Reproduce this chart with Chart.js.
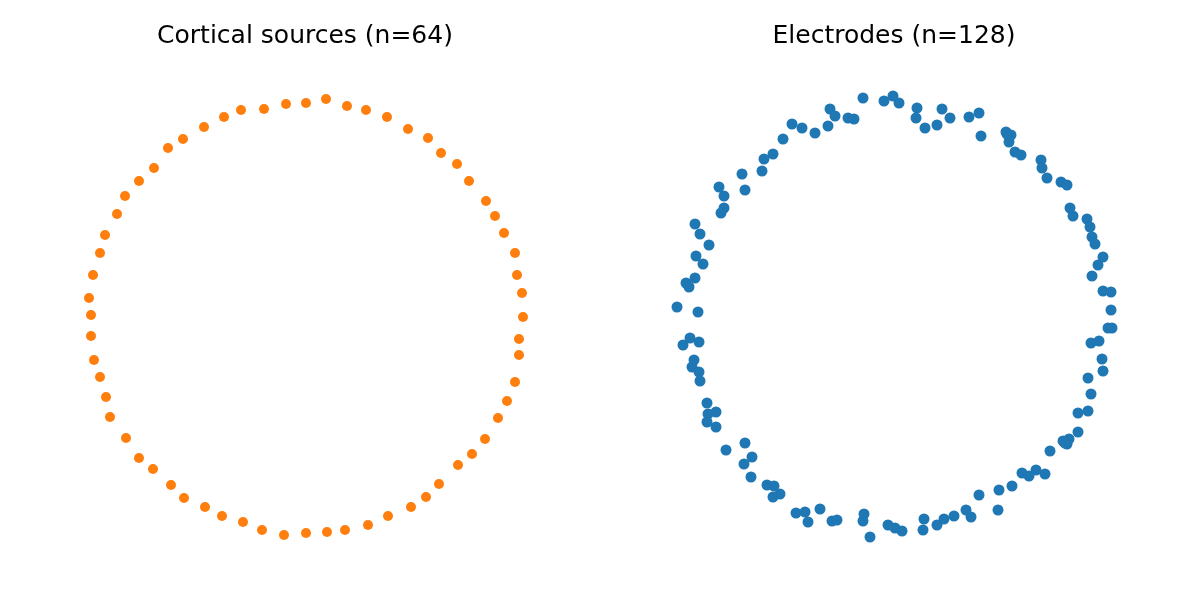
<!DOCTYPE html>
<html>
<head>
<meta charset="utf-8">
<script src="https://cdn.jsdelivr.net/npm/chart.js@4"></script>
<style>
  html, body { margin: 0; padding: 0; background: #fff; }
  #wrap { position: relative; width: 1200px; height: 600px; }
  .panel { position: absolute; top: 0; width: 600px; height: 600px; }
</style>
</head>
<body>
<div id="wrap">
  <div class="panel" style="left:0"><canvas id="c_sources" width="600" height="600"></canvas></div>
  <div class="panel" style="left:600px"><canvas id="c_electrodes" width="600" height="600"></canvas></div>
</div>
<script>
// cortical sources (n=64)
const sourceX = [0.21, 0.01, -0.19, -0.41, -0.64, -0.81, -1.01, -1.22, -1.37, -1.51, -1.66, -1.80, -1.88, -2.00, -2.05, -2.12,
  -2.16, -2.14, -2.14, -2.11, -2.05, -1.99, -1.95, -1.79, -1.66, -1.52, -1.34, -1.21, -1.00, -0.83, -0.62, -0.43,
  -0.21, 0.01, 0.22, 0.40, 0.63, 0.83, 1.06, 1.21, 1.34, 1.53, 1.67, 1.80, 1.93, 2.02, 2.10, 2.14,
  2.14, 2.18, 2.17, 2.12, 2.10, 1.99, 1.90, 1.81, 1.64, 1.52, 1.36, 1.23, 1.03, 0.82, 0.61, 0.42];
const sourceY = [2.18, 2.14, 2.13, 2.08, 2.07, 2.00, 1.90, 1.78, 1.69, 1.49, 1.36, 1.21, 1.03, 0.82, 0.64, 0.42,
  0.19, 0.02, -0.19, -0.43, -0.60, -0.80, -1.00, -1.21, -1.41, -1.52, -1.68, -1.81, -1.90, -1.99, -2.05, -2.13,
  -2.18, -2.16, -2.15, -2.13, -2.08, -1.99, -1.90, -1.80, -1.67, -1.48, -1.37, -1.22, -1.01, -0.84, -0.65, -0.38,
  -0.22, 0.00, 0.24, 0.42, 0.64, 0.84, 1.01, 1.16, 1.36, 1.53, 1.64, 1.79, 1.88, 2.00, 2.07, 2.11];

// electrodes (n=128)
const electrodeX = [-0.31, -0.10, -0.64, -0.59, -0.46, -0.40, -1.02, -0.92, -0.79, -0.66, -1.11, -1.21, -1.30, -1.32, -1.52, -1.49,
  -1.75, -1.70, -1.70, -1.73, -1.99, -1.94, -1.85, -1.98, -1.91, -1.99, -2.08, -2.05, -2.17, -1.96,
  -0.01, 0.05, 0.23, 0.22, 0.31, 0.43, 0.48, 0.56, 0.75, 0.85, 0.87, 1.12, 1.17, 1.15, 1.21, 1.27,
  1.47, 1.48, 1.53, 1.67, 1.73, 1.76, 1.79, 1.93, 1.96, 1.98, 2.01, 2.09, 2.04, 1.98, 2.09, 2.17, 2.17,
  -2.11, -2.04, -1.95, -2.00, -2.02, -1.95, -1.94, -1.87, -1.78, -1.86, -1.87, -1.78, -1.49, -1.68, -1.42, -1.50,
  -1.43, -1.27, -1.20, -1.14, -1.21, -0.98, -0.89, -0.86, -0.74, -0.62, -0.57, -0.30, -0.31, -0.24, -0.06, 0.01,
  0.08, 0.29, 0.30, 0.43, 0.50, 0.60, 0.72, 0.77, 0.85, 1.04, 1.05, 1.18, 1.28, 1.35, 1.42, 1.51,
  1.56, 1.69, 1.73, 1.75, 1.84, 1.84, 1.94, 1.97, 1.94, 2.09, 2.08, 1.97, 2.05, 2.14, 2.18, 1.13, 1.71];
const electrodeY = [2.19, 2.16, 2.08, 2.01, 1.99, 1.98, 1.93, 1.89, 1.84, 1.91, 1.78, 1.63, 1.58, 1.46, 1.43, 1.27,
  1.30, 1.21, 1.09, 1.04, 0.93, 0.83, 0.72, 0.61, 0.53, 0.39, 0.34, 0.30, 0.10, 0.05,
  2.21, 2.14, 2.09, 1.99, 1.89, 1.92, 2.08, 1.99, 2.00, 2.04, 1.81, 1.85, 1.82, 1.75, 1.65, 1.62,
  1.57, 1.49, 1.39, 1.35, 1.32, 1.09, 1.01, 0.98, 0.90, 0.80, 0.73, 0.60, 0.52, 0.41, 0.26, 0.25, 0.07,
  -0.28, -0.21, -0.25, -0.43, -0.50, -0.55, -0.64, -0.86, -0.95, -0.97, -1.05, -1.10, -1.26, -1.33, -1.40, -1.47,
  -1.60, -1.68, -1.69, -1.77, -1.80, -1.96, -1.95, -2.05, -1.92, -2.04, -2.03, -1.97, -2.04, -2.20, -2.08, -2.11,
  -2.14, -2.13, -2.02, -2.08, -2.02, -1.99, -1.93, -2.00, -1.78, -1.93, -1.73, -1.69, -1.56, -1.59, -1.53, -1.57,
  -1.34, -1.24, -1.27, -1.22, -1.15, -0.96, -0.94, -0.77, -0.61, -0.54, -0.42, -0.26, -0.24, -0.11, -0.11, 1.83, -1.26];

function makePanel(id, title, xs, ys, color, radius, pad) {
    var ctx = document.getElementById(id);
    return new Chart(ctx, {
        type: "scatter",
        data: {
            datasets: [{
                data: xs.map((x, i) => ({x: x, y: ys[i]})),
                backgroundColor: color,
                borderColor: color,
                borderWidth: 0,
                pointRadius: radius,
                pointHoverRadius: radius
            }]
        },
        options: {
            responsive: false,
            animation: false,
            devicePixelRatio: 1,
            layout: { padding: pad },
            scales: {
                x: { display: false, min: -2.55, max: 2.55 },
                y: { display: false, min: -2.57, max: 2.57 }
            },
            plugins: {
                legend: { display: false },
                tooltip: { enabled: false },
                title: {
                    display: true,
                    text: title,
                    color: "#000",
                    font: { family: "DejaVu Sans", size: 25, weight: "normal", lineHeight: 1.2 },
                    padding: { top: 21, bottom: 9 }
                }
            }
        }
    });
}

makePanel("c_sources", "Cortical sources (n=64)", sourceX, sourceY, "#ff7f0e", 5,
    { left: 50, right: 40, top: 0, bottom: 26 });
makePanel("c_electrodes", "Electrodes (n=128)", electrodeX, electrodeY, "#1f77b4", 5.5,
    { left: 39, right: 51, top: 0, bottom: 26 });
</script>
</body>
</html>
